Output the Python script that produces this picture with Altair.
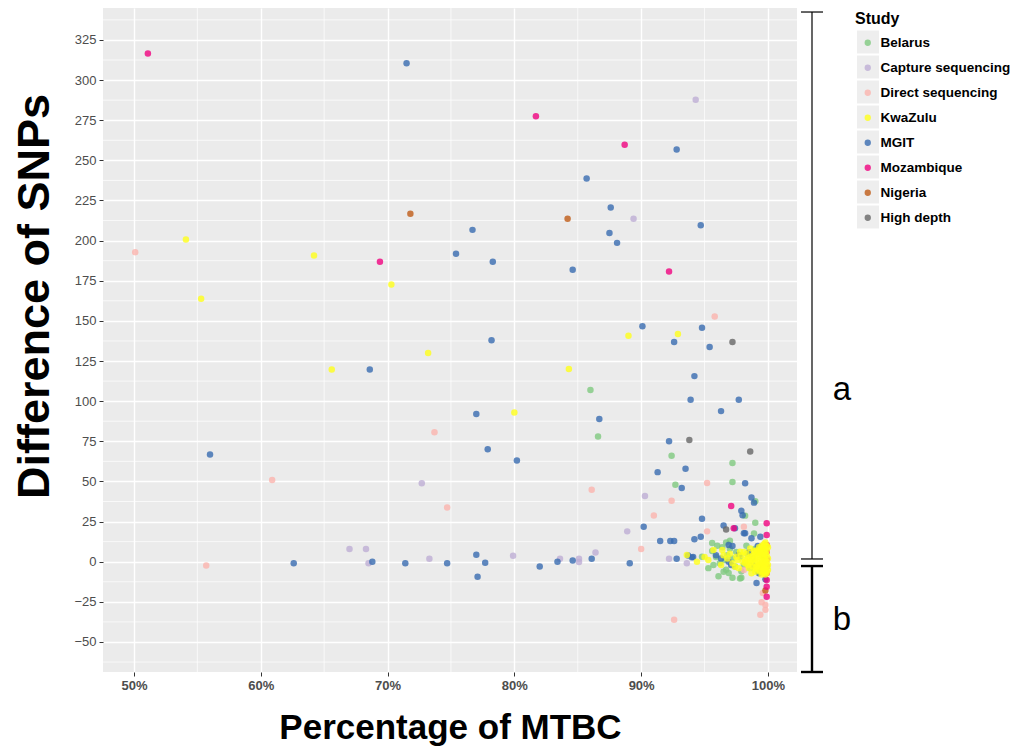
import altair as alt
import pandas as pd

# ---------------- data ----------------
studies = ["Belarus", "Capture sequencing", "Direct sequencing", "KwaZulu",
           "MGIT", "Mozambique", "Nigeria", "High depth"]
colors = ["#7fc97f", "#beaed4", "#fbb4ae", "#ffff1a",
          "#386cb0", "#f0027f", "#bf5b17", "#666666"]

belarus_x = [86.0, 86.6, 92.4, 97.2, 92.7, 97.2, 99.0, 98.2, 99.0, 98.9, 95.6, 95.6,
             94.8, 95.7, 96.5, 96.7, 97.2, 97.8, 97.9, 96.0, 96.4, 96.8, 97.0, 97.2,
             97.5, 97.8, 98.1, 98.4, 96.2, 96.6, 97.4, 97.9, 98.6, 99.0, 99.2, 96.9,
             95.9, 98.3, 97.0, 96.7, 98.8, 95.3, 96.1]
belarus_y = [107, 78, 66, 61.5, 48, 49.7, 37.7, 28.7, 24.3, 17.6, 11.6, 6.6,
             3.1, -2, -6.2, -5, -10, -10.5, -10, 10, 9, 4, 8, 2,
             6, 3, -2, 5, -1, 1, -3, -6, -4, 8, -6, -7,
             3, 10, 13, 12, 2, -4, -9]

capture_x = [94.3, 89.4, 72.7, 67.0, 68.3, 68.5, 73.3, 79.9, 83.6, 85.1, 85.1, 86.4,
             88.9, 90.3, 92.2, 93.6]
capture_y = [287.7, 213.6, 48.8, 7.9, 7.9, -1, 1.9, 3.7, 1.9, 1.9, -0.2, 5.8,
             18.9, 40.9, 1.9, -1]

direct_x = [50.1, 55.7, 60.9, 73.7, 74.7, 86.1, 90.0, 91.0, 92.4, 92.6, 95.2, 95.2,
            95.8, 98.1, 98.1, 99.6, 99.5, 99.8, 99.8, 99.4]
direct_y = [192.8, -2.3, 50.9, 80.7, 33.8, 44.8, 7.9, 28.8, 38, -36.1, 49, 18.9,
            152.7, 21.8, -5.2, -19.5, -25.3, -27, -30, -33]

mgit_x = [71.5, 92.8, 85.7, 87.6, 87.5, 88.1, 94.7, 76.7, 75.4, 78.3, 84.6, 90.1,
          94.8, 92.6, 95.4, 78.2, 68.6, 94.2, 97.7, 93.9, 96.3, 86.7, 77.0, 92.2,
          77.9, 56.0, 80.2, 91.3, 93.5, 98.2, 93.2, 98.7, 98.9, 97.9, 98.0, 90.2,
          94.8, 96.5, 91.5, 92.3, 92.6, 94.2, 94.7, 97.4, 98.1, 98.2, 98.7, 99.4,
          96.9, 97.2, 99.2, 97.1, 96.9, 97.7, 99.1, 99.8, 99.3, 92.8, 93.7, 94.1,
          94.0, 62.6, 68.8, 71.4, 74.7, 77.0, 77.1, 77.7, 82.0, 83.4, 84.6, 86.1,
          89.1, 98.5, 99.6, 99.7, 98.8, 96.3, 95.9]
mgit_y = [310.5, 256.7, 238.7, 220.6, 204.7, 198.6, 209.6, 206.7, 191.8, 186.8, 181.8, 146.7,
          145.8, 136.8, 133.7, 138, 119.7, 115.6, 100.9, 100.9, 93.8, 88.9, 92, 75,
          70, 66.8, 63, 55.8, 57.9, 48.8, 45.9, 40, 36.8, 31.8, 29, 21.8,
          26.7, 22.5, 12.9, 12.9, 12.9, 14, 15.6, 20.8, 17.7, 17.7, 14.6, 15.6,
          10.4, 9.8, 9.8, -2, 0, 4.2, -13.3, -11, -7.2, 1.9, 3.8, 2.9,
          2.7, -1, 0, -1, -1, 4.4, -9.3, -0.6, -3, 0, 0.7, 1.9,
          -1, 6, -4, 3, -2, 2, 4]

mozambique_x = [51.1, 69.4, 81.7, 88.7, 92.2, 97.1, 97.3, 99.9, 99.9, 99.9, 99.9,
                99.9, 99.9, 99.9, 99.9, 99.9, 99.9]
mozambique_y = [316.5, 186.8, 277.5, 259.7, 180.8, 34.7, 20.8, 23.9, 16.6, 10.4, 6.2,
                1.5, -3, -7.2, -11.4, -15.6, -21.8]

nigeria_x = [71.8, 84.2, 99.8]
nigeria_y = [216.7, 213.6, -18]

highdepth_x = [97.2, 93.8, 98.6, 96.7]
highdepth_y = [136.8, 75.8, 68.7, 20]

kwazulu_x = [54.1, 55.3, 64.2, 65.6, 70.3, 73.2, 80.0, 84.3, 89.0, 92.9,
             93.6, 94.4, 95.3, 95.7, 96.4, 96.3, 97.5, 97.4, 97.8, 98.6, 98.7, 99.0,
             96.8, 97.0, 97.2, 97.6, 97.9, 97.7, 98.1, 96.5, 95.0,
             98.0, 98.2, 98.2, 98.4, 98.4, 98.6, 98.6, 98.6, 98.8, 98.8, 98.8,
             99.0, 99.0, 99.0, 99.0, 99.1, 99.2, 99.2, 99.2, 99.2, 99.3, 99.4,
             99.4, 99.4, 99.4, 99.4, 99.5, 99.5, 99.5, 99.6, 99.6, 99.6, 99.6,
             99.6, 99.7, 99.7, 99.7, 99.7, 99.7, 99.8, 99.8, 99.8, 99.8, 99.8,
             99.8, 99.8, 99.9, 99.9, 99.9, 99.9, 99.9, 99.9, 100.0, 100.0, 100.0,
             100.0, 99.7, 99.3, 98.3, 98.5, 98.9, 99.1, 99.3, 99.5, 99.7, 99.9]
kwazulu_y = [200.7, 163.8, 190.7, 119.7, 172.7, 130, 93, 120, 140.7, 141.8,
             4.2, 0, 1, 7.3, 7.3, -2, 3.1, -3.1, 6.2, 8.3, -7.2, -6.2,
             2, 5, -1, 1, 4, -4, 6, 4, 3,
             0, 1, -1, 2, -2, 3, -1, 0, 4, -3, 1,
             5, -4, 2, -1, 7, 6, -5, 3, 0, -2, 8,
             -6, 4, 1, -3, 10, 6, -1, 9, -7, 3, -4,
             0, 11, 7, -6, 2, -2, 12, 8, 5, -8,
             -5, 1, -1, 10, 4, -3, -6, 0, 7, 2, -2,
             9, -5, 4.5, 5.5, 5, -4, 6.5, -3, 9, -8, -4, -7]

# bracket annotations (value ranges on the y scale)
bracket_labels = ["a", "b"]
bracket_top = [342.4, -2.7]
bracket_bottom = [1.7, -68.7]
bracket_label_y = [107, -36.3]
bracket_width = [1.2, 2.4]

# axis breaks
x_major = [50, 60, 70, 80, 90, 100]
x_minor = [55, 65, 75, 85, 95]
y_major = [-50, -25, 0, 25, 50, 75, 100, 125, 150, 175, 200, 225, 250, 275, 300, 325]
y_minor = [-62.5, -37.5, -12.5, 12.5, 37.5, 62.5, 87.5, 112.5, 137.5, 162.5, 187.5,
           212.5, 237.5, 262.5, 287.5, 312.5, 337.5]

# ---------------- tables ----------------
series = [
    ("Belarus", belarus_x, belarus_y),
    ("Capture sequencing", capture_x, capture_y),
    ("Direct sequencing", direct_x, direct_y),
    ("MGIT", mgit_x, mgit_y),
    ("Nigeria", nigeria_x, nigeria_y),
    ("High depth", highdepth_x, highdepth_y),
    ("Mozambique", mozambique_x, mozambique_y),
    ("KwaZulu", kwazulu_x, kwazulu_y),
]
rows = []
for name, xs, ys in series:
    for xv, yv in zip(xs, ys):
        rows.append({"Study": name, "pct": xv, "snp": yv})
points = pd.DataFrame(rows)
points["ord"] = range(len(points))

brackets = pd.DataFrame({"label": bracket_labels, "top": bracket_top,
                         "bottom": bracket_bottom, "ly": bracket_label_y,
                         "w": bracket_width})
caps = pd.DataFrame({"v": bracket_top + bracket_bottom,
                     "w": bracket_width + bracket_width})
xminor_df = pd.DataFrame({"v": x_minor})
yminor_df = pd.DataFrame({"v": y_minor})
keys_df = pd.DataFrame({"Study": studies, "i": list(range(len(studies)))})

W, H = 694, 664
xscale = alt.Scale(domain=[47.56, 102.29], nice=False, zero=False)
yscale = alt.Scale(domain=[-68.7, 344.9], nice=False, zero=False)

FONT = "Liberation Sans"

x_axis = alt.Axis(
    values=x_major, title="Percentage of MTBC",
    labelExpr="datum.value + '%'",
    grid=True, gridColor="white", gridWidth=1.4,
    tickColor="#333333", tickSize=4, tickWidth=1,
    domain=False, labelFont=FONT, labelFontSize=13, labelFontWeight="bold",
    labelColor="#4d4d4d", labelPadding=3,
    titleFont=FONT, titleFontSize=35, titleFontWeight="bold", titleColor="black",
    titlePadding=18,
)
y_axis = alt.Axis(
    values=y_major, title="Difference of SNPs", format="d",
    grid=True, gridColor="white", gridWidth=1.4,
    tickColor="#333333", tickSize=4, tickWidth=1,
    domain=False, labelFont=FONT, labelFontSize=13,
    labelColor="#4d4d4d", labelPadding=3,
    titleFont=FONT, titleFontSize=45, titleFontWeight="bold", titleColor="black",
    titlePadding=16, titleY=288,
)

xminor = alt.Chart(xminor_df).mark_rule(color="white", strokeWidth=0.7).encode(
    x=alt.X("v:Q", scale=xscale, axis=x_axis),
)
yminor = alt.Chart(yminor_df).mark_rule(color="white", strokeWidth=0.7).encode(
    y=alt.Y("v:Q", scale=yscale, axis=y_axis),
)

# light grey key backgrounds behind the legend symbols
keys = alt.Chart(keys_df).transform_calculate(
    ky=34 + 25 * alt.datum.i - 11.5, ky2=34 + 25 * alt.datum.i + 11.5
).mark_rect(color="#eeeeee").encode(
    x=alt.value(754), x2=alt.value(776),
    y=alt.Y("ky:Q", scale=None), y2="ky2:Q",
)

pts = alt.Chart(points).mark_circle(size=42, opacity=0.8).encode(
    x=alt.X("pct:Q", scale=xscale, axis=x_axis),
    y=alt.Y("snp:Q", scale=yscale, axis=y_axis),
    color=alt.Color(
        "Study:N",
        scale=alt.Scale(domain=studies, range=colors),
        legend=alt.Legend(
            title="Study", orient="none", legendX=752, legendY=3,
            titleFont=FONT, titleFontSize=16, titleFontWeight="bold", titleColor="black",
            titlePadding=9,
            labelFont=FONT, labelFontSize=13.5, labelFontWeight="bold", labelColor="black",
            symbolType="circle", symbolSize=40, symbolOpacity=0.8,
            symbolOffset=6, labelOffset=6, rowPadding=10,
        ),
    ),
    order=alt.Order("ord:Q"),
)

vrule = alt.Chart(brackets).mark_rule(color="black").encode(
    x=alt.value(709),
    y=alt.Y("top:Q", scale=yscale),
    y2="bottom:Q",
    strokeWidth=alt.StrokeWidth("w:Q", scale=None, legend=None),
)
hcaps = alt.Chart(caps).mark_rule(color="black").encode(
    x=alt.value(698), x2=alt.value(720),
    y=alt.Y("v:Q", scale=yscale),
    strokeWidth=alt.StrokeWidth("w:Q", scale=None, legend=None),
)
labels = alt.Chart(brackets).mark_text(
    font=FONT, fontSize=33, color="black", align="center", baseline="middle"
).encode(
    x=alt.value(739),
    y=alt.Y("ly:Q", scale=yscale),
    text="label:N",
)

chart = alt.layer(xminor, yminor, keys, pts, vrule, hcaps, labels).properties(
    width=W, height=H,
    background="white",
    autosize=alt.AutoSizeParams(type="none"),
    padding={"left": 95, "top": 0, "right": 218, "bottom": 74},
).configure_view(
    fill="#ebebeb", stroke=None
)

chart.save("out.html", embed_options={"renderer": "svg", "actions": False})
